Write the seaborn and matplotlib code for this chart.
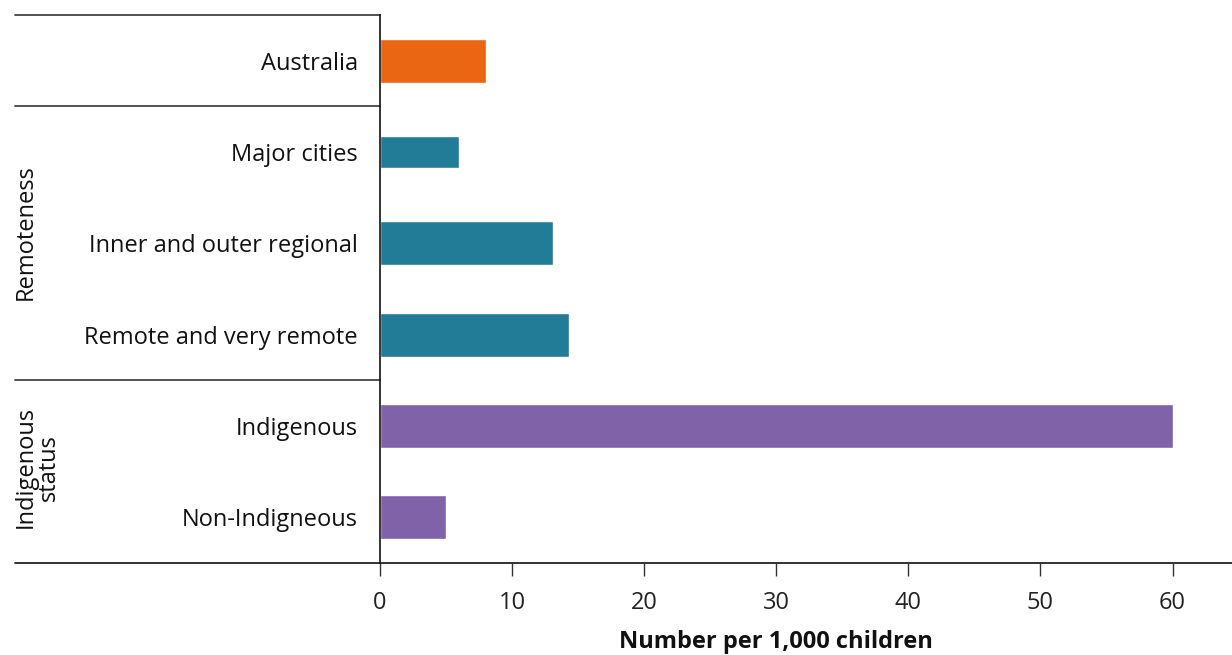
import matplotlib
matplotlib.use('Agg')
import matplotlib.pyplot as plt
import matplotlib.transforms as mtransforms
import pandas as pd
import seaborn as sns

# data
categories = ['Australia', 'Major cities', 'Inner and outer regional',
              'Remote and very remote', 'Indigenous', 'Non-Indigneous']
values = [8.0, 6.0, 13.1, 14.3, 60.0, 5.0]
groups = ['Australia', 'Remoteness', 'Remoteness', 'Remoteness',
          'Indigenous status', 'Indigenous status']
group_colors = {'Australia': '#EB6612', 'Remoteness': '#237C97',
                'Indigenous status': '#7F62A7'}
xticks = [0, 10, 20, 30, 40, 50, 60]

df = pd.DataFrame({'category': categories, 'value': values, 'group': groups})

sns.set_theme(style='white')
plt.rcParams['font.family'] = ['Open Sans', 'DejaVu Sans']
FS = 17

fig = plt.figure(figsize=(12.32, 6.55), dpi=100)
ax = fig.add_axes([380 / 1232, 1 - 563 / 655, 1 - 380 / 1232, (563 - 15) / 655])

sns.barplot(data=df, y='category', x='value', hue='group', palette=group_colors,
            order=categories, orient='h', width=0.48, dodge=False,
            legend=False, saturation=1, ax=ax)

# the major cities bar is drawn a little thinner in the original
for p in ax.patches:
    if abs(p.get_y() + p.get_height() / 2 - 1) < 0.01:
        p.set_y(1 - 0.18)
        p.set_height(0.36)

ax.set_xlim(0, 64.5)
ax.set_ylim(5.5, -0.5)
ax.set_xticks(xticks)
ax.set_xticklabels([str(t) for t in xticks], fontsize=FS, color='#222222')
ax.set_yticks(range(len(categories)))
ax.set_yticklabels(categories, fontsize=FS, color='#111111')
ax.set_ylabel('')
ax.set_xlabel('Number per 1,000 children', fontsize=FS, fontweight='bold',
              labelpad=11, color='#111111')
ax.xaxis.label.set_x(30 / 64.5)

ax.tick_params(axis='x', bottom=True, length=9, width=1, color='#333333', pad=11)
ax.tick_params(axis='y', left=False, pad=10)

for s in ['top', 'right']:
    ax.spines[s].set_visible(False)
ax.spines['left'].set_color('#111111')
ax.spines['left'].set_linewidth(1.2)
ax.spines['bottom'].set_visible(False)

# group separators extending into the label area
trans = mtransforms.blended_transform_factory(ax.transAxes, ax.transData)
x0 = (15 - 380) / 852
for yv in [-0.5, 0.5, 3.5]:
    ax.plot([x0, 0], [yv, yv], transform=trans, color='#444444', lw=1.3,
            clip_on=False)
ax.plot([x0, 1], [5.5, 5.5], transform=trans, color='#222222', lw=1.3,
        clip_on=False)

# group labels
ax.text(x0 - 0.002, 1.88, 'Remoteness', transform=trans, rotation=90,
        ha='left', va='center', fontsize=FS, color='#111111')
ax.text(x0 - 0.002, 4.45, 'Indigenous\nstatus', transform=trans, rotation=90,
        ha='left', va='center', fontsize=FS, color='#111111',
        multialignment='center', linespacing=1.0)

fig.savefig('out.png', dpi=100)
